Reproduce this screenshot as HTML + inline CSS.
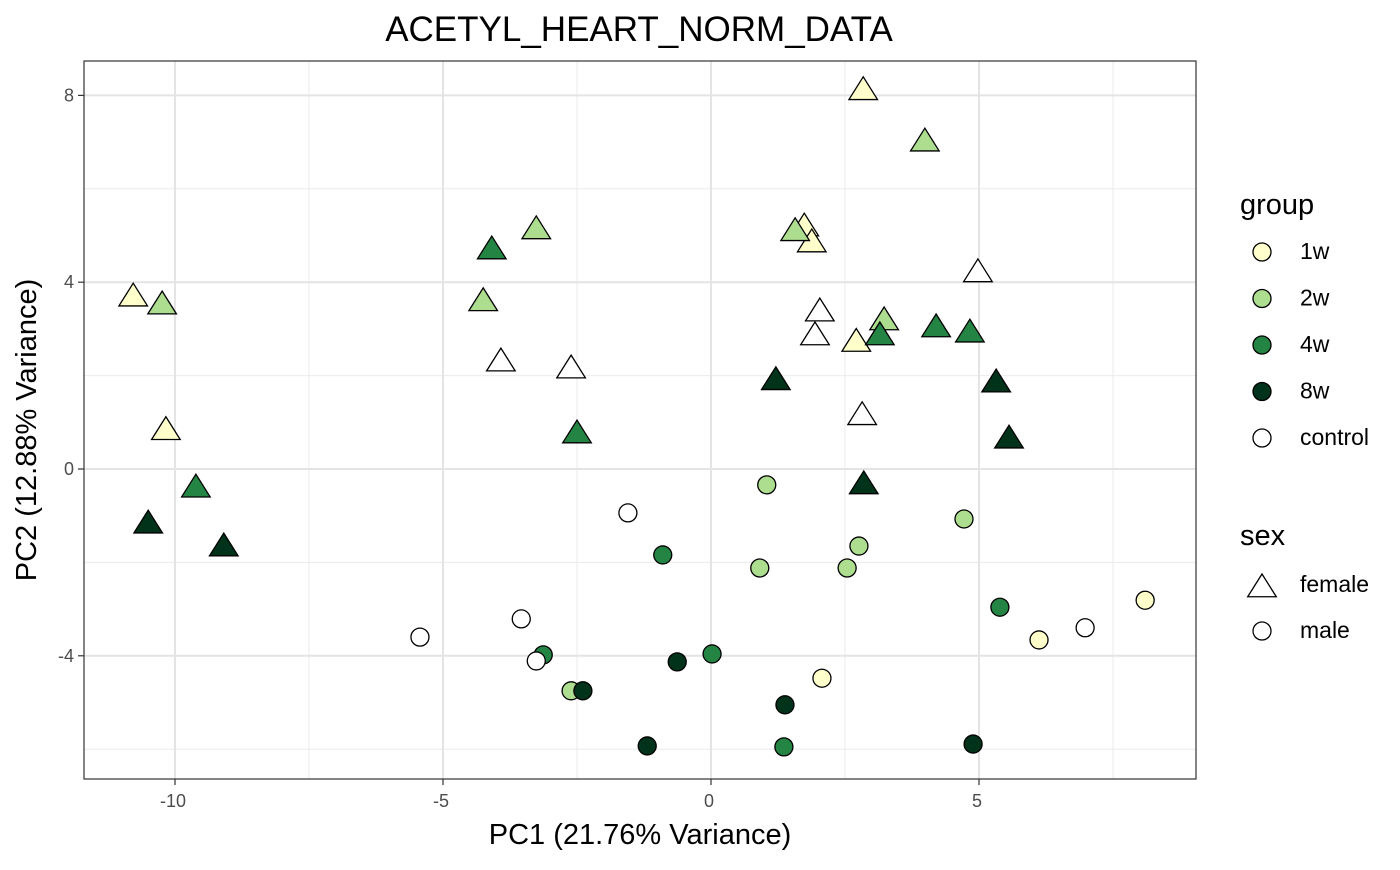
<!DOCTYPE html>
<html><head><meta charset="utf-8"><style>
body{margin:0;background:#fff;}
svg text{font-family:"Liberation Sans",sans-serif;}
</style></head><body>
<svg id="chart" width="1400" height="865" xmlns="http://www.w3.org/2000/svg">
<rect width="1400" height="865" fill="#fff"/>
<text x="639" y="41" font-size="35" text-anchor="middle">ACETYL_HEART_NORM_DATA</text>
<g id="grid"></g>
<g id="marks"></g>
<rect x="84" y="61" width="1112" height="718" fill="none" stroke="#333" stroke-width="1.2"/>
<g id="axes"></g>
<text x="640" y="844" font-size="29" text-anchor="middle">PC1 (21.76% Variance)</text>
<text transform="translate(36,430) rotate(-90)" font-size="29" text-anchor="middle">PC2 (12.88% Variance)</text>
<g id="legend"></g>
</svg>
<script>
const groups=["1w","2w","4w","8w","control"];
const groupColors=["#ffffcc","#addd8e","#238443","#00331a","#ffffff"];
const xMajor=[-10,-5,0,5];
const xMinor=[-7.5,-2.5,2.5,7.5];
const yMajor=[-4,0,4,8];
const yMinor=[-6,-2,2,6];
const xTickLabels=["-10","-5","0","5"];
const yTickLabels=["-4","0","4","8"];
// female (triangles)
const femaleGroup=["1w","1w","1w","1w","1w","1w","2w","2w","2w","2w","2w","2w","4w","4w","4w","4w","4w","4w","8w","8w","8w","8w","8w","8w","control","control","control","control","control","control"];
const femalePC1=[2.84,-10.78,-10.17,1.74,1.88,2.71,3.99,-10.24,-3.26,-4.25,1.57,3.23,-4.09,-2.50,-9.61,4.20,4.83,3.15,-10.50,-9.09,1.21,5.32,5.56,2.85,-3.92,-2.61,2.03,1.94,4.98,2.82];
const femalePC2=[8.12,3.70,0.84,5.20,4.86,2.73,7.02,3.53,5.14,3.60,5.10,3.19,4.71,0.77,-0.39,3.04,2.93,2.87,-1.16,-1.65,1.91,1.86,0.66,-0.32,2.31,2.16,3.38,2.87,4.22,1.16];
// male (circles)
const maleGroup=["1w","1w","1w","2w","2w","2w","2w","2w","2w","4w","4w","4w","4w","4w","8w","8w","8w","8w","8w","control","control","control","control","control"];
const malePC1=[8.10,6.12,2.07,1.04,2.76,0.91,2.54,4.72,-2.61,-0.90,-3.13,0.02,5.39,1.36,-2.39,-0.63,1.38,-1.19,4.89,-1.55,-3.54,-5.43,-3.26,6.98];
const malePC2=[-2.81,-3.66,-4.48,-0.34,-1.65,-2.12,-2.12,-1.07,-4.75,-1.84,-3.98,-3.96,-2.96,-5.95,-4.75,-4.13,-5.05,-5.93,-5.89,-0.94,-3.21,-3.60,-4.11,-3.40];

const NS="http://www.w3.org/2000/svg";
const X=v=>711+v*53.6;
const Y=v=>469-v*46.7;
function mk(tag,attrs,parent){const e=document.createElementNS(NS,tag);for(const k in attrs)e.setAttribute(k,attrs[k]);parent.appendChild(e);return e;}
const grid=document.getElementById('grid'),marks=document.getElementById('marks'),axes=document.getElementById('axes'),legend=document.getElementById('legend');
mk('rect',{x:84,y:61,width:1112,height:718,fill:'#fff'},grid);
xMinor.forEach(v=>{const l=mk('line',{x1:X(v),x2:X(v),y1:61,y2:779,stroke:'#ebebeb','stroke-width':1},grid);

});
yMinor.forEach(v=>{const l=mk('line',{x1:84,x2:1196,y1:Y(v),y2:Y(v),stroke:'#ebebeb','stroke-width':1},grid);

});
xMajor.forEach((v,i)=>{const l=mk('line',{x1:X(v),x2:X(v),y1:61,y2:779,stroke:'#e4e4e4','stroke-width':2},grid);


mk('line',{x1:X(v),x2:X(v),y1:779,y2:785,stroke:'#333','stroke-width':1.2},axes);
const t=mk('text',{x:X(v)-2,y:807,'font-size':18,'text-anchor':'middle',fill:'#4d4d4d'},axes);t.textContent=xTickLabels[i];

});
yMajor.forEach((v,i)=>{const l=mk('line',{x1:84,x2:1196,y1:Y(v),y2:Y(v),stroke:'#e4e4e4','stroke-width':2},grid);


mk('line',{x1:78,x2:84,y1:Y(v),y2:Y(v),stroke:'#333','stroke-width':1.2},axes);
const t=mk('text',{x:74,y:Y(v)+6,'font-size':18,'text-anchor':'end',fill:'#4d4d4d'},axes);t.textContent=yTickLabels[i];

});
function tri(cx,cy,fill,parent){const s=13;
return mk('polygon',{points:`${cx},${cy-s} ${cx-s*1.1},${cy+s*0.75} ${cx+s*1.1},${cy+s*0.75}`,fill:fill,stroke:'#000','stroke-width':1.3},parent);}
function circ(cx,cy,fill,parent){return mk('circle',{cx:cx,cy:cy,r:9,fill:fill,stroke:'#000','stroke-width':1.3},parent);}
femalePC1.forEach((v,i)=>{const e=tri(X(v),Y(femalePC2[i]),groupColors[groups.indexOf(femaleGroup[i])],marks);

});
malePC1.forEach((v,i)=>{const e=circ(X(v),Y(malePC2[i]),groupColors[groups.indexOf(maleGroup[i])],marks);

});
// legend
let t=mk('text',{x:1240,y:214,'font-size':29},legend);t.textContent='group';


groups.forEach((g,i)=>{const y=252+i*46.5;const c=circ(1262,y,groupColors[i],legend);


const tx=mk('text',{x:1300,y:y+7,'font-size':23},legend);tx.textContent=g;

});
t=mk('text',{x:1240,y:545,'font-size':29},legend);t.textContent='sex';


const ft=tri(1262,587,'#fff',legend);


t=mk('text',{x:1300,y:592,'font-size':23},legend);t.textContent='female';


const mc=circ(1262,631,'#fff',legend);


t=mk('text',{x:1300,y:638,'font-size':23},legend);t.textContent='male';


</script>
</body></html>
